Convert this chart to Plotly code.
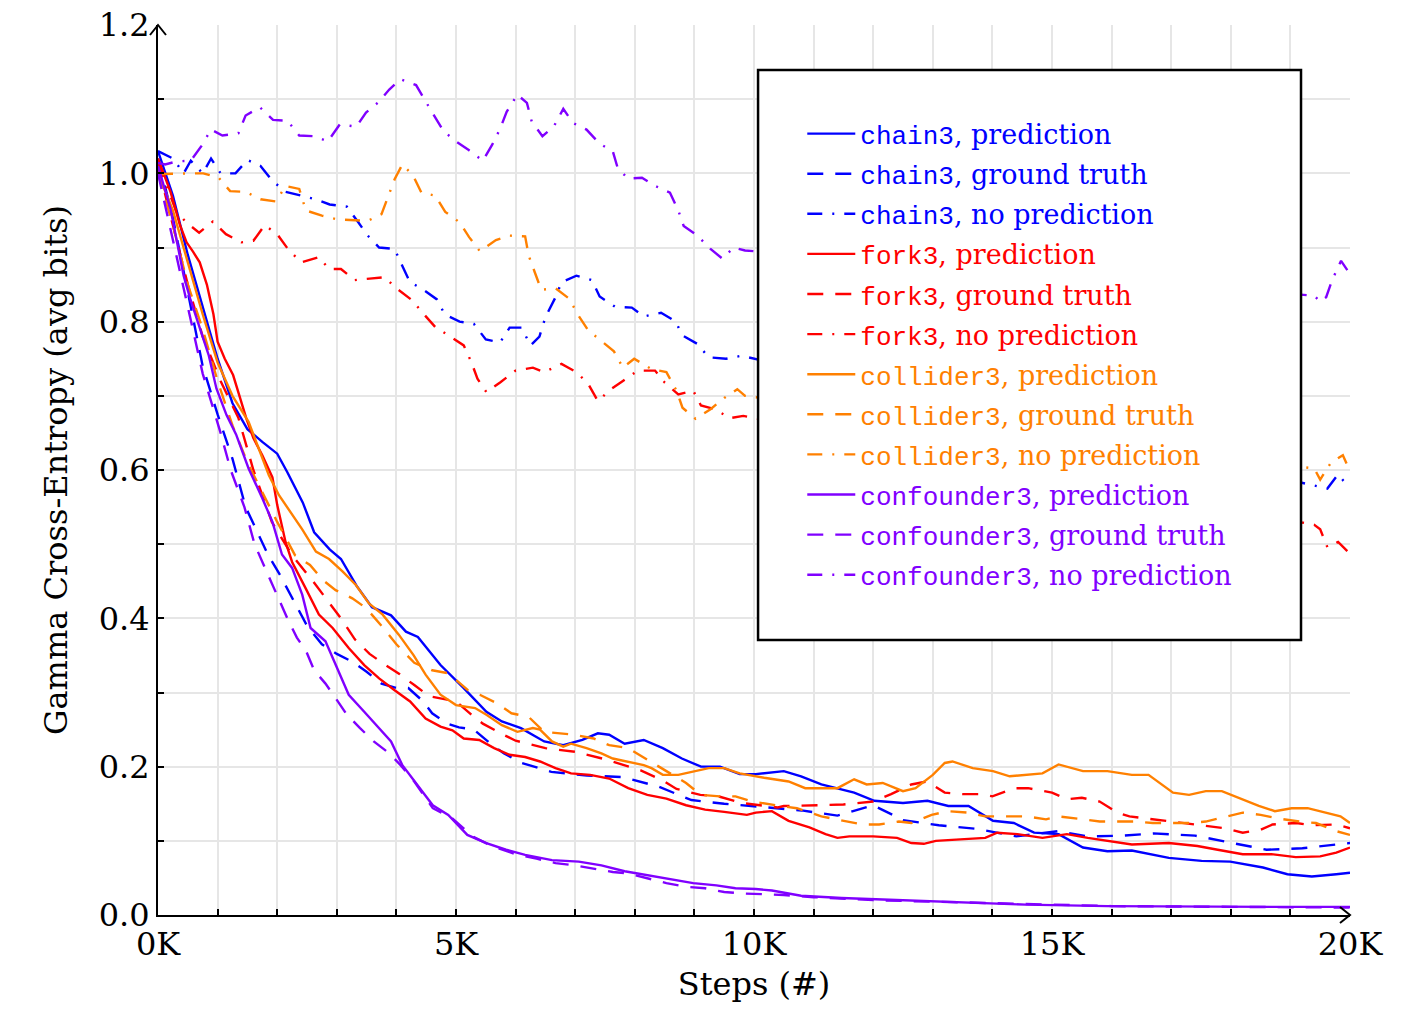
import plotly.graph_objects as go

# ---------------- data (x in thousands of steps) ----------------
chain3_pred_k = [0, 0.25, 0.5, 0.75, 1.0, 1.25, 1.5, 1.75, 2.0, 2.17, 2.43, 2.62, 2.88, 3.07, 3.33, 3.59, 3.91, 4.16, 4.36, 4.74, 5.13, 5.51, 5.77, 6.09, 6.48, 6.8, 7.12, 7.38, 7.57, 7.83, 8.15, 8.47, 8.79, 9.11, 9.43, 9.76, 10.03, 10.5, 10.79, 11.13, 11.68, 12.02, 12.5, 12.91, 13.26, 13.6, 14.01, 14.36, 14.7, 15.11, 15.52, 15.93, 16.34, 16.96, 17.51, 17.99, 18.54, 18.95, 19.36, 19.77, 20]
chain3_pred = [1.03, 0.97, 0.89, 0.82, 0.75, 0.69, 0.655, 0.638, 0.622, 0.597, 0.556, 0.516, 0.493, 0.48, 0.444, 0.415, 0.404, 0.382, 0.375, 0.337, 0.306, 0.274, 0.261, 0.252, 0.234, 0.229, 0.236, 0.245, 0.243, 0.231, 0.236, 0.225, 0.211, 0.2, 0.2, 0.19, 0.19, 0.194, 0.187, 0.176, 0.165, 0.154, 0.151, 0.154, 0.147, 0.147, 0.127, 0.124, 0.111, 0.109, 0.091, 0.086, 0.087, 0.077, 0.073, 0.072, 0.064, 0.055, 0.052, 0.055, 0.057]

chain3_gt_k = [0, 0.25, 0.5, 0.75, 1.0, 1.25, 1.47, 1.67, 1.85, 2.05, 2.25, 2.5, 2.75, 3.0, 3.25, 3.5, 3.75, 4.0, 4.2, 4.45, 4.6, 4.85, 5.05, 5.3, 5.55, 5.8, 6.1, 6.6, 7.2, 7.8, 8.4, 8.95, 9.5, 9.9, 10.4, 10.8, 11.4, 12.0, 12.5, 13.1, 13.75, 14.4, 15.1, 15.6, 16.2, 16.7, 17.4, 18.0, 18.6, 19.2, 19.8, 20]
chain3_gt = [1.02, 0.94, 0.84, 0.74, 0.675, 0.615, 0.55, 0.515, 0.485, 0.458, 0.427, 0.39, 0.365, 0.352, 0.342, 0.328, 0.312, 0.306, 0.306, 0.288, 0.272, 0.258, 0.253, 0.25, 0.233, 0.218, 0.205, 0.193, 0.188, 0.186, 0.173, 0.155, 0.15, 0.147, 0.143, 0.141, 0.134, 0.148, 0.128, 0.121, 0.116, 0.106, 0.113, 0.106, 0.107, 0.11, 0.107, 0.097, 0.088, 0.09, 0.095, 0.097]

chain3_nopred_k = [0, 0.25, 0.43, 0.55, 0.75, 0.89, 1.05, 1.3, 1.5, 1.72, 1.92, 2.14, 2.4, 2.65, 2.88, 3.17, 3.36, 3.52, 3.71, 3.97, 4.1, 4.23, 4.42, 4.68, 4.81, 5.06, 5.3, 5.5, 5.74, 5.9, 6.1, 6.25, 6.4, 6.5, 6.67, 6.77, 7.02, 7.28, 7.41, 7.67, 7.95, 8.15, 8.44, 8.69, 8.79, 9.05, 9.24, 9.53, 9.79, 19.62, 19.8, 20]
chain3_nopred = [1.03, 1.02, 1.0, 1.017, 1.0, 1.02, 1.0, 1.0, 1.018, 1.01, 0.99, 0.975, 0.97, 0.965, 0.958, 0.955, 0.934, 0.916, 0.9, 0.898, 0.875, 0.853, 0.845, 0.83, 0.81, 0.8, 0.797, 0.776, 0.772, 0.792, 0.792, 0.768, 0.78, 0.806, 0.833, 0.853, 0.862, 0.856, 0.834, 0.82, 0.819, 0.807, 0.812, 0.8, 0.782, 0.77, 0.752, 0.75, 0.754, 0.575, 0.594, 0.575]

fork3_pred_k = [0, 0.21, 0.37, 0.48, 0.59, 0.7, 0.82, 0.93, 1.0, 1.12, 1.26, 1.37, 1.48, 1.6, 1.75, 1.92, 2.0, 2.14, 2.25, 2.48, 2.7, 2.93, 3.2, 3.46, 3.71, 3.97, 4.23, 4.49, 4.74, 4.94, 5.13, 5.39, 5.64, 5.9, 6.16, 6.41, 6.67, 6.93, 7.25, 7.57, 7.89, 8.21, 8.53, 8.86, 9.18, 9.5, 9.88, 10.03, 10.3, 10.58, 10.93, 11.2, 11.4, 11.6, 12.0, 12.4, 12.64, 12.85, 13.05, 13.46, 13.88, 14.08, 14.42, 14.84, 15.25, 15.6, 15.93, 16.34, 16.96, 17.44, 17.78, 18.2, 18.68, 19.09, 19.5, 19.77, 20]
fork3_pred = [1.02, 0.975, 0.93, 0.907, 0.894, 0.88, 0.85, 0.81, 0.773, 0.75, 0.728, 0.7, 0.67, 0.643, 0.62, 0.59, 0.553, 0.503, 0.476, 0.44, 0.405, 0.387, 0.36, 0.337, 0.319, 0.303, 0.288, 0.265, 0.254, 0.249, 0.238, 0.236, 0.225, 0.216, 0.213, 0.207, 0.198, 0.191, 0.189, 0.184, 0.171, 0.162, 0.157, 0.148, 0.142, 0.139, 0.135, 0.138, 0.14, 0.127, 0.118, 0.109, 0.104, 0.106, 0.106, 0.104, 0.097, 0.096, 0.1, 0.102, 0.104, 0.111, 0.109, 0.104, 0.109, 0.104, 0.1, 0.095, 0.097, 0.093, 0.088, 0.082, 0.082, 0.078, 0.079, 0.084, 0.091]

fork3_gt_k = [0, 0.25, 0.5, 0.75, 1.05, 1.35, 1.6, 1.91, 2.25, 2.6, 2.88, 3.07, 3.3, 3.55, 3.8, 4.05, 4.3, 4.55, 4.87, 5.0, 5.26, 5.45, 5.75, 6.0, 6.5, 7.0, 7.5, 7.9, 8.1, 8.5, 8.7, 9.1, 9.4, 9.8, 10.4, 10.5, 10.9, 11.1, 11.5, 11.7, 12.0, 12.3, 12.64, 12.9, 13.2, 13.5, 13.8, 14.0, 14.36, 14.6, 15.0, 15.25, 15.5, 15.8, 16.1, 16.3, 16.7, 17.0, 17.3, 17.5, 17.9, 18.2, 18.5, 18.7, 19.1, 19.35, 19.77, 20]
fork3_gt = [1.01, 0.93, 0.85, 0.78, 0.72, 0.67, 0.6, 0.53, 0.485, 0.45, 0.42, 0.4, 0.372, 0.352, 0.338, 0.325, 0.31, 0.295, 0.29, 0.288, 0.27, 0.258, 0.245, 0.235, 0.225, 0.22, 0.21, 0.2, 0.195, 0.18, 0.17, 0.162, 0.16, 0.151, 0.145, 0.147, 0.147, 0.148, 0.149, 0.151, 0.153, 0.163, 0.176, 0.18, 0.165, 0.163, 0.163, 0.16, 0.171, 0.171, 0.165, 0.156, 0.158, 0.153, 0.138, 0.133, 0.129, 0.126, 0.124, 0.122, 0.117, 0.111, 0.115, 0.122, 0.124, 0.121, 0.122, 0.117]

fork3_nopred_k = [0, 0.3, 0.47, 0.69, 0.92, 1.14, 1.4, 1.6, 1.79, 2.0, 2.18, 2.4, 2.7, 2.87, 3.07, 3.3, 3.55, 3.8, 4.0, 4.26, 4.45, 4.65, 4.9, 5.13, 5.26, 5.36, 5.51, 5.74, 6.0, 6.29, 6.48, 6.77, 7.02, 7.22, 7.38, 7.6, 7.8, 8.05, 8.34, 8.5, 8.73, 8.98, 9.11, 9.34, 9.6, 9.82, 19.4, 19.5, 19.62, 19.8, 20]
fork3_nopred = [1.014, 0.95, 0.934, 0.92, 0.935, 0.918, 0.907, 0.909, 0.93, 0.918, 0.898, 0.88, 0.887, 0.871, 0.871, 0.856, 0.858, 0.86, 0.845, 0.829, 0.811, 0.793, 0.78, 0.768, 0.745, 0.723, 0.705, 0.718, 0.734, 0.738, 0.732, 0.743, 0.732, 0.716, 0.693, 0.709, 0.72, 0.734, 0.734, 0.718, 0.702, 0.707, 0.687, 0.682, 0.67, 0.673, 0.526, 0.52, 0.496, 0.503, 0.487]

collider3_pred_k = [0, 0.25, 0.5, 0.75, 1.0, 1.25, 1.52, 1.69, 1.86, 2.03, 2.25, 2.42, 2.65, 2.87, 3.1, 3.32, 3.54, 3.77, 4.04, 4.29, 4.49, 4.74, 5.0, 5.32, 5.51, 5.77, 6.03, 6.29, 6.41, 6.61, 6.8, 6.93, 7.19, 7.44, 7.63, 7.89, 8.15, 8.28, 8.47, 8.73, 8.98, 9.24, 9.5, 9.76, 10.17, 10.58, 10.86, 11.4, 11.68, 11.89, 12.16, 12.5, 12.71, 13.0, 13.2, 13.33, 13.67, 14.01, 14.29, 14.56, 14.84, 15.11, 15.25, 15.52, 15.93, 16.34, 16.62, 17.03, 17.3, 17.58, 17.85, 18.13, 18.47, 18.74, 19.02, 19.29, 19.57, 19.84, 20]
collider3_pred = [1.0, 0.95, 0.88, 0.81, 0.745, 0.7, 0.665, 0.629, 0.593, 0.566, 0.54, 0.52, 0.49, 0.48, 0.463, 0.445, 0.42, 0.405, 0.378, 0.35, 0.324, 0.297, 0.283, 0.279, 0.27, 0.256, 0.247, 0.252, 0.25, 0.234, 0.227, 0.231, 0.225, 0.218, 0.211, 0.207, 0.202, 0.198, 0.189, 0.189, 0.193, 0.198, 0.198, 0.191, 0.185, 0.18, 0.171, 0.171, 0.183, 0.176, 0.178, 0.167, 0.171, 0.189, 0.205, 0.207, 0.198, 0.194, 0.187, 0.189, 0.191, 0.203, 0.2, 0.194, 0.194, 0.189, 0.189, 0.165, 0.162, 0.167, 0.167, 0.158, 0.147, 0.14, 0.144, 0.144, 0.138, 0.133, 0.124]

collider3_gt_k = [0, 0.25, 0.5, 0.75, 1.0, 1.25, 1.5, 1.75, 2.0, 2.3, 2.55, 2.76, 2.98, 3.26, 3.49, 3.75, 4.0, 4.3, 4.6, 4.87, 5.2, 5.4, 5.7, 5.93, 6.22, 6.48, 6.74, 6.99, 7.31, 7.57, 7.89, 8.08, 8.4, 8.86, 9.11, 9.43, 9.69, 9.97, 10.45, 10.72, 11.13, 11.4, 11.82, 12.1, 12.43, 12.64, 12.98, 13.26, 13.6, 13.88, 14.29, 14.56, 14.9, 15.1, 15.52, 15.8, 16.14, 16.41, 16.69, 17.03, 17.3, 17.58, 17.92, 18.2, 18.5, 18.8, 19.16, 19.43, 19.77, 20]
collider3_gt = [1.0, 0.93, 0.85, 0.79, 0.72, 0.66, 0.61, 0.57, 0.53, 0.485, 0.472, 0.452, 0.438, 0.427, 0.414, 0.39, 0.365, 0.34, 0.33, 0.326, 0.303, 0.297, 0.285, 0.272, 0.267, 0.247, 0.245, 0.243, 0.238, 0.229, 0.225, 0.216, 0.2, 0.178, 0.162, 0.16, 0.16, 0.153, 0.147, 0.144, 0.133, 0.129, 0.122, 0.122, 0.126, 0.124, 0.135, 0.14, 0.138, 0.133, 0.133, 0.133, 0.129, 0.133, 0.129, 0.126, 0.126, 0.126, 0.124, 0.124, 0.124, 0.126, 0.133, 0.138, 0.135, 0.13, 0.126, 0.124, 0.113, 0.108]

collider3_nopred_k = [0, 0.3, 0.55, 0.76, 1.02, 1.21, 1.47, 1.72, 1.98, 2.14, 2.37, 2.48, 2.75, 3.0, 3.26, 3.52, 3.75, 3.86, 3.97, 4.1, 4.28, 4.42, 4.65, 4.82, 5.06, 5.22, 5.4, 5.67, 5.9, 6.16, 6.22, 6.32, 6.43, 6.67, 6.9, 7.04, 7.22, 7.44, 7.65, 7.8, 7.99, 8.28, 8.53, 8.7, 8.8, 9.02, 9.27, 9.5, 9.72, 9.85, 19.4, 19.5, 19.68, 19.88, 20]
collider3_nopred = [0.999, 1.0, 1.0, 1.0, 0.994, 0.976, 0.975, 0.965, 0.962, 0.983, 0.979, 0.95, 0.943, 0.938, 0.937, 0.936, 0.945, 0.97, 0.992, 1.012, 0.997, 0.974, 0.97, 0.948, 0.934, 0.914, 0.895, 0.91, 0.916, 0.915, 0.889, 0.867, 0.843, 0.845, 0.831, 0.81, 0.788, 0.774, 0.76, 0.738, 0.75, 0.736, 0.732, 0.707, 0.684, 0.669, 0.682, 0.697, 0.709, 0.7, 0.602, 0.587, 0.61, 0.62, 0.598]

confounder3_pred_k = [0, 0.21, 0.32, 0.43, 0.54, 0.71, 0.85, 0.98, 1.15, 1.31, 1.52, 1.75, 1.92, 2.08, 2.25, 2.42, 2.56, 2.81, 3.01, 3.2, 3.46, 3.71, 3.91, 4.1, 4.36, 4.61, 4.87, 5.19, 5.51, 5.84, 6.16, 6.61, 7.06, 7.44, 7.83, 8.21, 8.6, 8.98, 9.37, 9.69, 10.03, 10.3, 10.79, 11.47, 12.16, 12.84, 13.53, 14.56, 15.93, 17.3, 18.68, 20]
confounder3_pred = [1.01, 0.952, 0.907, 0.862, 0.831, 0.79, 0.755, 0.71, 0.674, 0.648, 0.602, 0.562, 0.53, 0.486, 0.468, 0.432, 0.387, 0.369, 0.333, 0.297, 0.274, 0.252, 0.234, 0.202, 0.175, 0.148, 0.135, 0.108, 0.097, 0.088, 0.081, 0.074, 0.072, 0.067, 0.059, 0.054, 0.049, 0.043, 0.04, 0.036, 0.035, 0.033, 0.026, 0.023, 0.021, 0.019, 0.017, 0.014, 0.012, 0.011, 0.011, 0.011]

confounder3_gt_k = [0, 0.25, 0.5, 0.75, 1.05, 1.22, 1.45, 1.62, 1.8, 1.92, 2.05, 2.17, 2.33, 2.49, 2.62, 2.81, 3.0, 3.17, 3.39, 3.62, 3.88, 4.07, 4.3, 4.61, 4.94, 5.3, 5.6, 6.0, 6.35, 6.67, 6.99, 7.31, 7.63, 7.89, 8.21, 8.53, 8.86, 9.18, 9.5, 9.82, 10.5, 11, 12, 13, 14, 15, 16, 18, 20]
confounder3_gt = [1.0, 0.91, 0.82, 0.73, 0.65, 0.6, 0.55, 0.5, 0.467, 0.445, 0.423, 0.4, 0.374, 0.355, 0.33, 0.312, 0.29, 0.27, 0.252, 0.234, 0.218, 0.202, 0.18, 0.144, 0.13, 0.105, 0.093, 0.082, 0.076, 0.07, 0.067, 0.063, 0.058, 0.056, 0.049, 0.043, 0.038, 0.036, 0.031, 0.029, 0.027, 0.024, 0.02, 0.018, 0.016, 0.013, 0.012, 0.011, 0.01]

confounder3_nopred_k = [0, 0.12, 0.31, 0.55, 0.73, 0.89, 1.08, 1.35, 1.47, 1.71, 1.93, 2.17, 2.37, 2.62, 2.85, 3.05, 3.33, 3.49, 3.7, 3.88, 4.07, 4.33, 4.49, 4.63, 4.79, 5.0, 5.22, 5.45, 5.61, 5.74, 5.85, 6.03, 6.19, 6.27, 6.45, 6.64, 6.8, 6.96, 7.19, 7.41, 7.63, 7.71, 7.88, 8.12, 8.34, 8.59, 8.73, 8.82, 9.05, 9.27, 9.47, 9.66, 9.85, 19.4, 19.5, 19.6, 19.7, 19.85, 20]
confounder3_nopred = [1.014, 1.012, 1.016, 1.017, 1.037, 1.059, 1.051, 1.054, 1.078, 1.089, 1.072, 1.071, 1.051, 1.05, 1.043, 1.066, 1.063, 1.082, 1.096, 1.113, 1.127, 1.119, 1.097, 1.078, 1.057, 1.043, 1.031, 1.017, 1.039, 1.06, 1.083, 1.106, 1.095, 1.07, 1.05, 1.063, 1.087, 1.068, 1.059, 1.04, 1.03, 1.008, 0.993, 0.994, 0.983, 0.974, 0.95, 0.929, 0.916, 0.898, 0.885, 0.9, 0.896, 0.835, 0.827, 0.833, 0.856, 0.882, 0.864]

structures = ["chain3", "fork3", "collider3", "confounder3"]
conditions = ["prediction", "ground truth", "no prediction"]
structure_colors = {"chain3": "#0000FF", "fork3": "#FF0000",
                    "collider3": "#FF8000", "confounder3": "#8000FF"}
condition_dash = {"prediction": "solid", "ground truth": "16px,12px",
                  "no prediction": "15px,10px,2px,10px"}

series = {
    ("chain3", "prediction"): (chain3_pred_k, chain3_pred),
    ("chain3", "ground truth"): (chain3_gt_k, chain3_gt),
    ("chain3", "no prediction"): (chain3_nopred_k, chain3_nopred),
    ("fork3", "prediction"): (fork3_pred_k, fork3_pred),
    ("fork3", "ground truth"): (fork3_gt_k, fork3_gt),
    ("fork3", "no prediction"): (fork3_nopred_k, fork3_nopred),
    ("collider3", "prediction"): (collider3_pred_k, collider3_pred),
    ("collider3", "ground truth"): (collider3_gt_k, collider3_gt),
    ("collider3", "no prediction"): (collider3_nopred_k, collider3_nopred),
    ("confounder3", "prediction"): (confounder3_pred_k, confounder3_pred),
    ("confounder3", "ground truth"): (confounder3_gt_k, confounder3_gt),
    ("confounder3", "no prediction"): (confounder3_nopred_k, confounder3_nopred),
}

x_tick_vals = list(range(0, 20001, 1000))
x_tick_text = [f"{v // 1000}K" if v % 5000 == 0 else "" for v in x_tick_vals]
y_tick_vals = [i / 10 for i in range(13)]
y_tick_text = [f"{v:.1f}" if i % 2 == 0 else "" for i, v in enumerate(y_tick_vals)]

SERIF = "DejaVu Serif"
MONO = "Liberation Mono"

fig = go.Figure()
for s in structures:
    for c in conditions:
        xs, ys = series[(s, c)]
        col = structure_colors[s]
        label = (f'<span style="color:{col};font-family:{SERIF}">'
                 f'<span style="font-family:{MONO};font-size:26px">{s}</span>, {c}</span>')
        fig.add_trace(go.Scatter(
            x=[v * 1000 for v in xs], y=ys, mode="lines", name=label,
            legendgroup=f"{s}-{c}",
            line=dict(color=col, width=2.4, dash=condition_dash[c]),
            hoverinfo="skip"))

axis_common = dict(showline=True, linecolor="black", linewidth=2, mirror=False,
                   ticks="inside", ticklen=6, tickwidth=1.5, tickcolor="black",
                   showgrid=True, gridcolor="#e6e6e6", gridwidth=1.5, zeroline=False,
                   automargin=False, ticklabeloverflow="allow",
                   tickfont=dict(family=SERIF, size=32, color="black"))

fig.update_layout(
    width=1415, height=1013,
    margin=dict(l=158, r=65, t=25, b=98),
    paper_bgcolor="white", plot_bgcolor="white",
    xaxis=dict(range=[0, 20000], tickmode="array", tickvals=x_tick_vals, ticktext=x_tick_text,
               title=dict(text="Steps (#)", font=dict(family=SERIF, size=32, color="black"), standoff=10),
               **axis_common),
    yaxis=dict(range=[0, 1.2], tickmode="array", tickvals=y_tick_vals, ticktext=y_tick_text,
               title=dict(text="Gamma Cross-Entropy (avg bits)", font=dict(family=SERIF, size=32, color="black"), standoff=22),
               **axis_common),
    showlegend=True,
    legend=dict(x=0.5405, y=0.905, xanchor="left", yanchor="top",
                bgcolor="rgba(0,0,0,0)", borderwidth=0,
                font=dict(family=SERIF, size=27, color="black"),
                itemwidth=48, tracegroupgap=2, traceorder="grouped"),
    shapes=[
        dict(type="rect", xref="paper", yref="paper", x0=0.5034, x1=0.9589, y0=0.309, y1=0.9494,
             line=dict(color="black", width=2.5), fillcolor="white", layer="above"),
        dict(type="path", xref="paper", yref="paper", xsizemode="pixel", ysizemode="pixel",
             xanchor=0, yanchor=1, path="M-8,-10 L0,0 L8,-10",
             line=dict(color="black", width=2), layer="above"),
        dict(type="path", xref="paper", yref="paper", xsizemode="pixel", ysizemode="pixel",
             xanchor=1, yanchor=0, path="M-10,8 L0,0 L-10,-8",
             line=dict(color="black", width=2), layer="above"),
    ],
)

# remove the default 8px page margin so the figure fills the window exactly
fig.write_html("out.html", config={"displayModeBar": False},
               post_script="document.body.style.margin='0';")
